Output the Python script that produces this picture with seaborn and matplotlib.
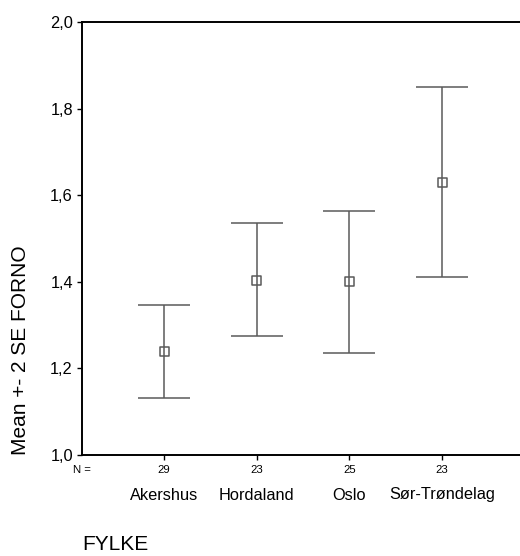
import numpy as np
import pandas as pd
import matplotlib
matplotlib.use('Agg')
import matplotlib.pyplot as plt
import matplotlib.transforms as mtransforms
import seaborn as sns

# Data
fylke = ['Akershus', 'Hordaland', 'Oslo', 'Sør-Trøndelag']
n_counts = [29, 23, 25, 23]
mean_forno = [1.239, 1.403, 1.400, 1.630]
lower = [1.132, 1.274, 1.236, 1.410]
upper = [1.347, 1.536, 1.564, 1.850]

df = pd.DataFrame({'FYLKE': fylke, 'mean': mean_forno,
                   'lower': lower, 'upper': upper, 'N': n_counts})

sns.set_style('white')
plt.rcParams['font.family'] = ['Liberation Sans', 'DejaVu Sans']
plt.rcParams['text.color'] = 'black'
plt.rcParams['xtick.color'] = 'black'
plt.rcParams['ytick.color'] = 'black'

fig = plt.figure(figsize=(5.2, 5.56), dpi=100)
ax = fig.add_axes([82 / 520, 1 - 455 / 556, 1 - 82 / 520, (455 - 22) / 556])

grey = '#5a5a5a'
yerr = [df['mean'] - df['lower'], df['upper'] - df['mean']]
ax.errorbar(df['FYLKE'], df['mean'], yerr=yerr, fmt='none', ecolor=grey,
            elinewidth=1.1, capsize=19, capthick=1.1, zorder=2)
sns.scatterplot(data=df, x='FYLKE', y='mean', marker='s', s=42,
                facecolor='none', edgecolor=grey, linewidth=1.1, ax=ax, zorder=3)

ax.set_xlim(-0.885, 3.84)
ax.set_ylim(1.0, 2.0)
ax.set_yticks([1.0, 1.2, 1.4, 1.6, 1.8, 2.0])
ax.set_yticklabels([f'{v:.1f}'.replace('.', ',') for v in ax.get_yticks()], fontsize=11.8)
ax.set_xticks(range(len(fylke)))
ax.set_xticklabels([str(n) for n in n_counts], fontsize=8.2)

for side in ['left', 'bottom', 'top']:
    ax.spines[side].set_visible(True)
    ax.spines[side].set_color('black')
    ax.spines[side].set_linewidth(1.4)
ax.spines['right'].set_visible(False)
ax.tick_params(axis='both', direction='out', length=3.5, width=1.0, color='black',
               labelcolor='black', left=True, bottom=True)
ax.tick_params(axis='y', pad=3)
ax.tick_params(axis='x', pad=4)
ax.set_xlabel('')
ax.set_ylabel('')

# y axis title, bottom-aligned with the axis like the reference
fig.text(21 / 520, 1 - 455 / 556, 'Mean +- 2 SE FORNO', rotation=90,
         ha='center', va='bottom', fontsize=15, color='black')

# "N =" marker and category names under the counts
trans = mtransforms.blended_transform_factory(ax.transData, ax.transAxes)
ax.text(0, -0.035, 'N =', transform=ax.transAxes, ha='center', va='center',
        fontsize=8.2, color='black')
for i, name in enumerate(fylke):
    ax.text(i, -40 / 433, name, transform=trans, ha='center', va='center',
            fontsize=11.8, color='black')

fig.text(82 / 520, 1 - 545 / 556, 'FYLKE', ha='left', va='center', fontsize=15,
         color='black')

fig.savefig('out.png', dpi=100)
plt.close(fig)
